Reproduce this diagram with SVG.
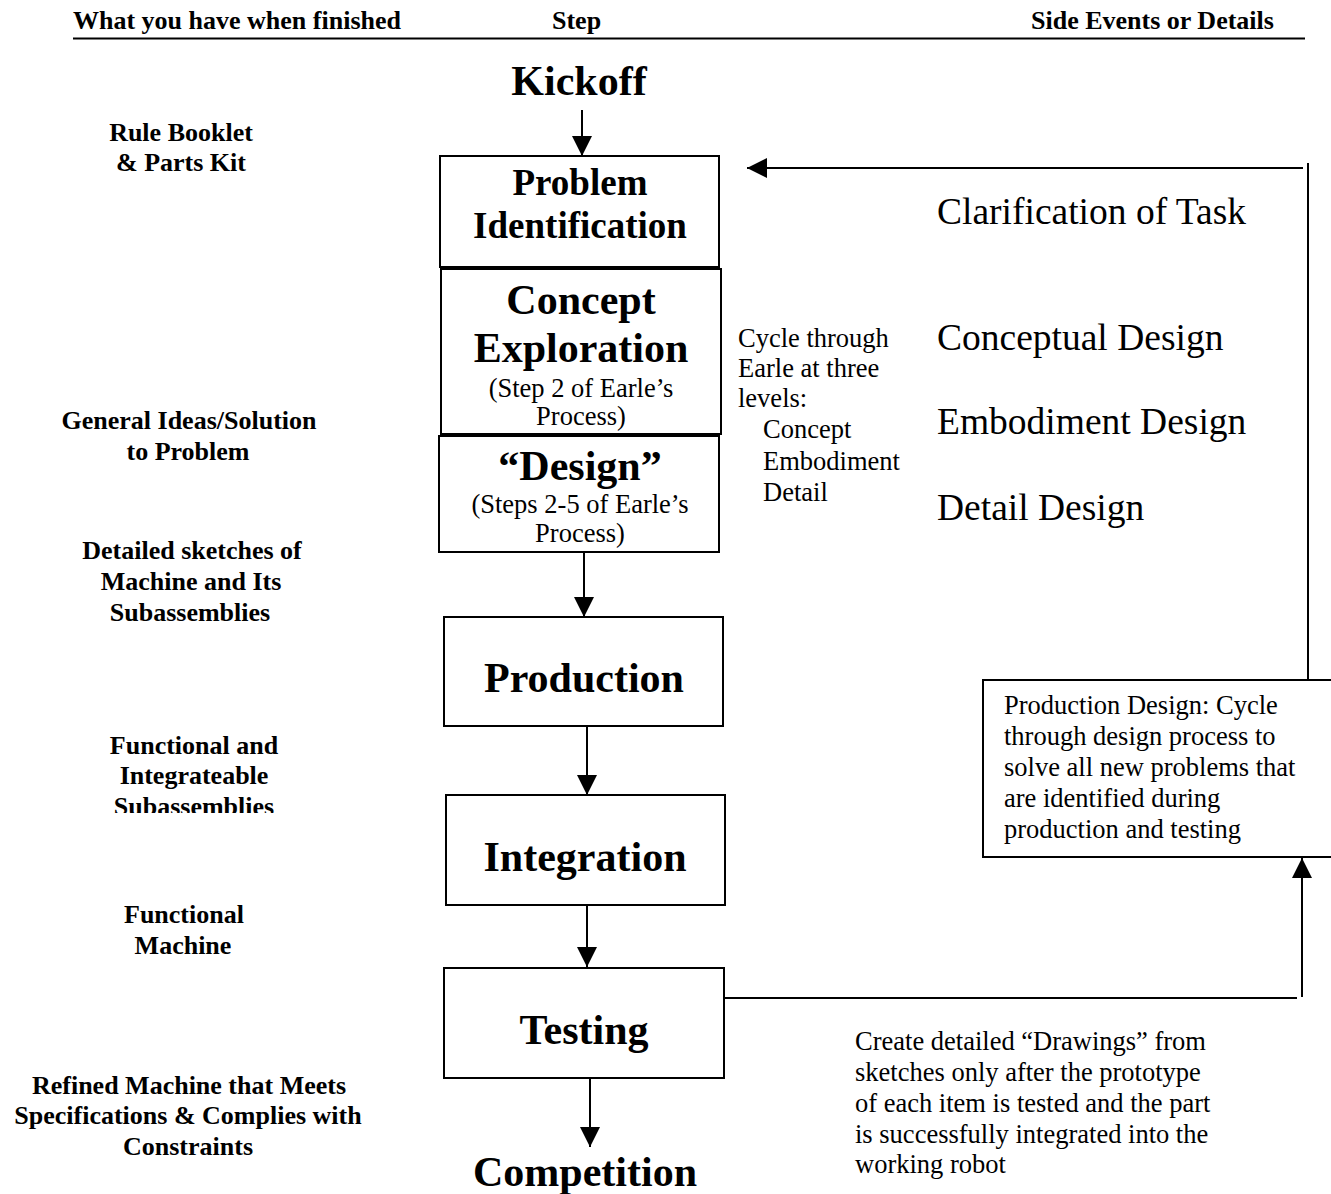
<svg xmlns="http://www.w3.org/2000/svg" width="1331" height="1194" viewBox="0 0 1331 1194">
<defs>
<marker id="ah" viewBox="0 0 20 20" refX="20" refY="10" markerWidth="20" markerHeight="20" markerUnits="userSpaceOnUse" orient="auto">
<path d="M0,0 L20,10 L0,20 Z" fill="#000"/>
</marker>
<clipPath id="clipSub"><rect x="0" y="790" width="440" height="23"/></clipPath>
</defs>
<style>
text{font-family:"Liberation Serif","Times New Roman",serif;fill:#000}
.hd{font-size:26px;font-weight:bold}
.lb{font-size:26px;font-weight:bold;text-anchor:middle}
.big{font-size:42px;font-weight:bold;text-anchor:middle}
.mid{font-size:37px;font-weight:bold;text-anchor:middle}
.sm{font-size:26.5px;text-anchor:middle}
.rg{font-size:26.5px}
.rt{font-size:37.5px}
.box{fill:#fff;stroke:#000;stroke-width:2}
.cn{fill:none;stroke:#000;stroke-width:2}
</style>
<rect width="1331" height="1194" fill="#fff"/>

<g id="header">
<text class="hd" x="73" y="29">What you have when finished</text>
<text class="hd" x="552" y="29">Step</text>
<text class="hd" x="1031" y="29">Side Events or Details</text>
<line x1="73" y1="38.5" x2="1305" y2="38.5" stroke="#000" stroke-width="2"/>
</g>

<g id="left-column">
<text class="lb" x="181" y="141">Rule Booklet</text>
<text class="lb" x="181" y="171">&amp; Parts Kit</text>
<text class="lb" x="189" y="429">General Ideas/Solution</text>
<text class="lb" x="188" y="460">to Problem</text>
<text class="lb" x="192" y="559">Detailed sketches of</text>
<text class="lb" x="191" y="590">Machine and Its</text>
<text class="lb" x="190" y="621">Subassemblies</text>
<text class="lb" x="194" y="754">Functional and</text>
<text class="lb" x="194" y="784">Integrateable</text>
<text class="lb" x="194" y="815" clip-path="url(#clipSub)">Subassemblies</text>
<text class="lb" x="184" y="923">Functional</text>
<text class="lb" x="183" y="954">Machine</text>
<text class="lb" x="189" y="1094">Refined Machine that Meets</text>
<text class="lb" x="188" y="1124">Specifications &amp; Complies with</text>
<text class="lb" x="188" y="1155">Constraints</text>
</g>

<g id="connectors">
<line class="cn" x1="582" y1="110" x2="582" y2="156" marker-end="url(#ah)"/>
<line class="cn" x1="584" y1="552" x2="584" y2="617" marker-end="url(#ah)"/>
<line class="cn" x1="587" y1="726" x2="587" y2="795" marker-end="url(#ah)"/>
<line class="cn" x1="587" y1="905" x2="587" y2="967" marker-end="url(#ah)"/>
<line class="cn" x1="590" y1="1078" x2="590" y2="1147" marker-end="url(#ah)"/>
<polyline class="cn" points="724,998 1297,998"/>
<line class="cn" x1="1302" y1="997" x2="1302" y2="858" marker-end="url(#ah)"/>
<line class="cn" x1="1308" y1="680" x2="1308" y2="163"/>
<line class="cn" x1="1303" y1="168" x2="747" y2="168" marker-end="url(#ah)"/>
</g>

<g id="kickoff">
<text class="big" x="579" y="95">Kickoff</text>
</g>

<g id="problem-identification">
<rect class="box" x="440" y="156" width="279" height="111"/>
<text class="mid" x="580" y="195">Problem</text>
<text class="mid" x="580" y="238">Identification</text>
</g>

<g id="concept-exploration">
<rect class="box" x="441" y="269" width="280" height="165"/>
<text class="big" x="581" y="314">Concept</text>
<text class="big" x="581" y="362">Exploration</text>
<text class="sm" x="581" y="397">(Step 2 of Earle’s</text>
<text class="sm" x="581" y="425">Process)</text>
</g>

<g id="design">
<rect class="box" x="439" y="436" width="280" height="116"/>
<text class="big" x="580" y="480">“Design”</text>
<text class="sm" x="580" y="513">(Steps 2-5 of Earle’s</text>
<text class="sm" x="580" y="542">Process)</text>
</g>

<g id="production">
<rect class="box" x="444" y="617" width="279" height="109"/>
<text class="big" x="584" y="692">Production</text>
</g>

<g id="integration">
<rect class="box" x="446" y="795" width="279" height="110"/>
<text class="big" x="585" y="871">Integration</text>
</g>

<g id="testing">
<rect class="box" x="444" y="968" width="280" height="110"/>
<text class="big" x="584" y="1044">Testing</text>
</g>

<g id="competition">
<text class="big" x="585" y="1186">Competition</text>
</g>

<g id="cycle-note">
<text class="rg" x="738" y="347">Cycle through</text>
<text class="rg" x="738" y="377">Earle at three</text>
<text class="rg" x="738" y="407">levels:</text>
<text class="rg" x="763" y="438">Concept</text>
<text class="rg" x="763" y="470">Embodiment</text>
<text class="rg" x="763" y="501">Detail</text>
</g>

<g id="design-phases">
<text class="rt" x="937" y="224">Clarification of Task</text>
<text class="rt" x="937" y="350">Conceptual Design</text>
<text class="rt" x="937" y="434">Embodiment Design</text>
<text class="rt" x="937" y="520">Detail Design</text>
</g>

<g id="production-design">
<rect class="box" x="983" y="680" width="360" height="177"/>
<text class="rg" x="1004" y="714">Production Design: Cycle</text>
<text class="rg" x="1004" y="745">through design process to</text>
<text class="rg" x="1004" y="776">solve all new problems that</text>
<text class="rg" x="1004" y="807">are identified during</text>
<text class="rg" x="1004" y="838">production and testing</text>
</g>

<g id="drawings-note">
<text class="rg" x="855" y="1050">Create detailed “Drawings” from</text>
<text class="rg" x="855" y="1081">sketches only after the prototype</text>
<text class="rg" x="855" y="1112">of each item is tested and the part</text>
<text class="rg" x="855" y="1143">is successfully integrated into the</text>
<text class="rg" x="855" y="1173">working robot</text>
</g>
</svg>
